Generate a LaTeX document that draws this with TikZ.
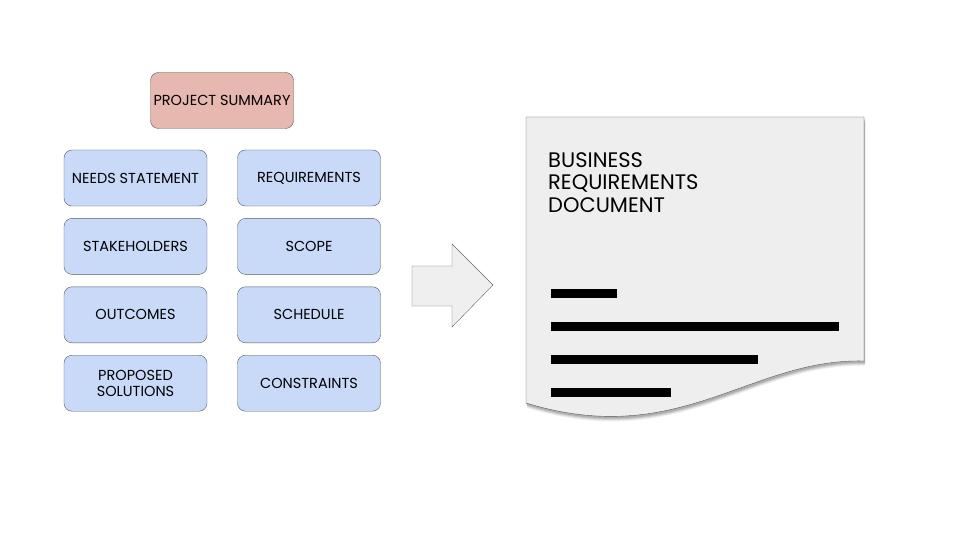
\documentclass[tikz,border=0pt]{standalone}
\usepackage{fontspec}
\setmainfont{Poppins}
\usetikzlibrary{positioning,chains}
\definecolor{summaryred}{HTML}{E6B8AF}
\definecolor{topicblue}{HTML}{C9DAF8}
\definecolor{edgegray}{HTML}{595959}
\definecolor{papergray}{HTML}{EEEEEE}
\definecolor{arrowgray}{HTML}{EFEFEF}

\begin{document}
\begin{tikzpicture}[
x=1pt,y=-1pt,
topic/.style={draw=edgegray,fill=topicblue,rounded corners=8pt,minimum width=143pt,minimum height=56pt,align=center,inner sep=1pt,font=\fontsize{14.5}{16}\selectfont},
]
\useasboundingbox (0,0) rectangle (960,540);

\node[topic,fill=summaryred] (summary) at (222,100.5) {PROJECT SUMMARY};

\begin{scope}[start chain=going below,node distance=12pt]
\node[topic,on chain] (needs) at (135.5,178) {NEEDS STATEMENT};
\node[topic,on chain] (stake) {STAKEHOLDERS};
\node[topic,on chain] (outcomes) {OUTCOMES};
\node[topic,on chain] (solutions) {PROPOSED\\SOLUTIONS};
\end{scope}

\begin{scope}[start chain=going below,node distance=12pt]
\node[topic,on chain] (reqs) at (309,178) {REQUIREMENTS};
\node[topic,on chain] (scope) {SCOPE};
\node[topic,on chain] (schedule) {SCHEDULE};
\node[topic,on chain] (constraints) {CONSTRAINTS};
\end{scope}

% arrow
\filldraw[draw=black!60,fill=arrowgray] (412,266) -- (452,266) -- (452,244) -- (493,285) -- (452,327) -- (452,306) -- (412,306) -- cycle;

% document with shadow
\foreach \s/\o in {5/0.06,4/0.08,3/0.1,2/0.12}
  \fill[black,opacity=\o,shift={(1,\s)}] (526,117) -- (864,117) -- (864,361) .. controls (750,358) and (680,450) .. (526,403) -- cycle;
\filldraw[draw=edgegray,fill=papergray] (526,117) -- (864,117) -- (864,361) .. controls (750,358) and (680,450) .. (526,403) -- cycle;

\node[anchor=north west,align=left,inner sep=0pt,font=\fontsize{21}{22.5}\selectfont] (brd) at (548,152) {BUSINESS\\REQUIREMENTS\\DOCUMENT};

\fill (551,289) rectangle (617,298);
\fill (551,322) rectangle (839,331);
\fill (551,355) rectangle (758,364);
\fill (551,388) rectangle (671,397);

\end{tikzpicture}
\end{document}
